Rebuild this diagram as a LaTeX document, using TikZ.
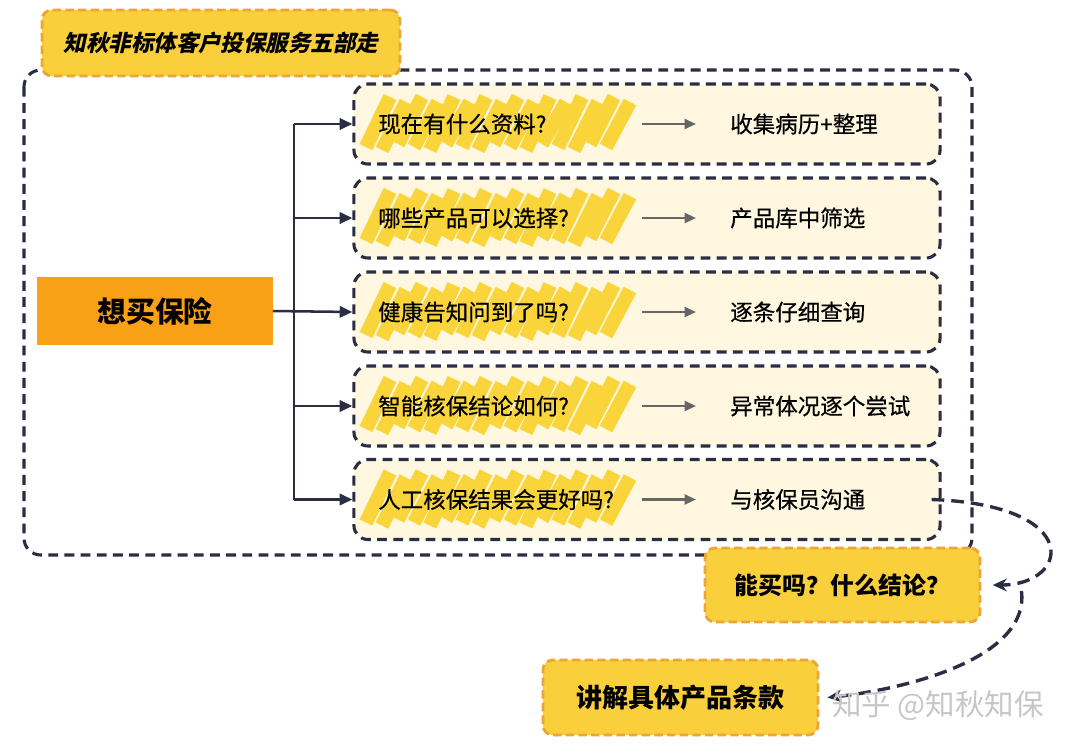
\documentclass[tikz,border=0pt]{standalone}
\usepackage{fontspec}
\newfontfamily\cjk{Noto Sans CJK SC}
\newfontfamily\cjkmid[FakeBold=0.5]{Noto Sans CJK SC}
\newfontfamily\cjkslant[FakeSlant=0.22]{Noto Sans CJK SC}
\usetikzlibrary{arrows.meta}
\definecolor{navy}{HTML}{2B2D42}
\definecolor{cream}{HTML}{FFF7E0}
\definecolor{tagfill}{HTML}{F9CF3C}
\definecolor{tagedge}{HTML}{EFA534}
\definecolor{brush}{HTML}{F8A116}
\definecolor{scribble}{HTML}{F9D53B}
\definecolor{tipgray}{HTML}{666666}
\begin{document}
\begin{tikzpicture}[x=0.025cm, y=-0.025cm,
    every node/.style={font=\cjk, text=black},
    navyline/.style={draw=navy, line width=2.2pt, dash pattern=on 7pt off 4.5pt},
    rowbox/.style={navyline, fill=cream, rounded corners=10pt, minimum width=14.65cm, minimum height=2cm},
    tagbox/.style={draw=tagedge, fill=tagfill, line width=2pt, dash pattern=on 6pt off 3pt, rounded corners=7pt},
    branch/.style={draw=navy, line width=1.8pt, -{Triangle[length=9pt, width=8pt]}},
    pointer/.style={draw=tipgray, line width=1.6pt, -{Triangle[length=8pt, width=7pt]}},
    loopback/.style={draw=navy, line width=2.4pt, dash pattern=on 9pt off 5pt, -{Stealth[length=10pt, width=9pt]}}]
    \useasboundingbox (0,0) rectangle (1080,751);
	% outer frame
	\draw[navyline, rounded corners=12pt] (24,70) rectangle (972,555);
	\node[tagbox, minimum width=8.95cm, minimum height=1.65cm, font=\cjkslant\bfseries\fontsize{16}{18}\selectfont] (title) at (221,43) {知秋非标体客户投保服务五部走};
	\node[fill=brush, minimum width=5.875cm, minimum height=1.7cm, font=\cjk\bfseries\fontsize{20.5}{24}\selectfont] (want) at (155,311) {想买保险};
	% five steps
	\foreach \y/\q/\a [count=\i] in {124/现在有什么资料?/收集病历+整理, 218/哪些产品可以选择?/产品库中筛选, 312/健康告知问到了吗?/逐条仔细查询, 406/智能核保结论如何?/异常体况逐个尝试, 499.5/人工核保结果会更好吗?/与核保员沟通} {
		\node[rowbox] (row\i) at (647,\y) {};
		\foreach \x [count=\k] in {366,382,...,616}
			\draw[scribble, line width=10pt] (\x,{\y+20+mod(\k,3)*3}) -- (\x+24,{\y-22-mod(\k,2)*5});
		\node[anchor=west, inner sep=0pt, font=\cjkmid\fontsize{16}{19}\selectfont] (q\i) at (378,\y) {\q};
		\node[anchor=west, inner sep=0pt, font=\cjkmid\fontsize{16}{19}\selectfont] (a\i) at (730,\y) {\a};
		\draw[pointer] ([xshift=-2.2cm]a\i.west) -- ([xshift=-0.85cm]a\i.west);
	}
	\coordinate (trunk) at (294,0);
	\draw[navy, line width=1.8pt] (trunk |- row1.west) -- (trunk |- row5.west);
	\draw[branch] (want.east) -- (row3.west);
	\foreach \i in {1,2,4,5}
		\draw[branch] (trunk |- row\i.west) -- (row\i.west);
	\node[tagbox, minimum width=6.875cm, minimum height=1.85cm, font=\cjk\bfseries\fontsize{17}{20}\selectfont] (result) at (842.5,585) {能买吗？什么结论？};
	\node[tagbox, minimum width=6.875cm, minimum height=1.875cm, font=\cjk\bfseries\fontsize{18.5}{22}\selectfont] (explain) at (680.5,697.5) {讲解具体产品条款};
	\draw[loopback, shorten >=8pt] ([xshift=-0.25cm]a5.east -| row5.east) .. controls (1085,505) and (1070,585) .. (result.east);
	\draw[loopback] ([xshift=1cm, yshift=-0.15cm]result.east) .. controls (1030,660) and (900,690) .. ([xshift=0.2cm]explain.east);
	\node[text=gray!45, font=\cjk\fontsize{21}{24}\selectfont] (mark) at (938,706) {知乎 @知秋知保};
\end{tikzpicture}
\end{document}
